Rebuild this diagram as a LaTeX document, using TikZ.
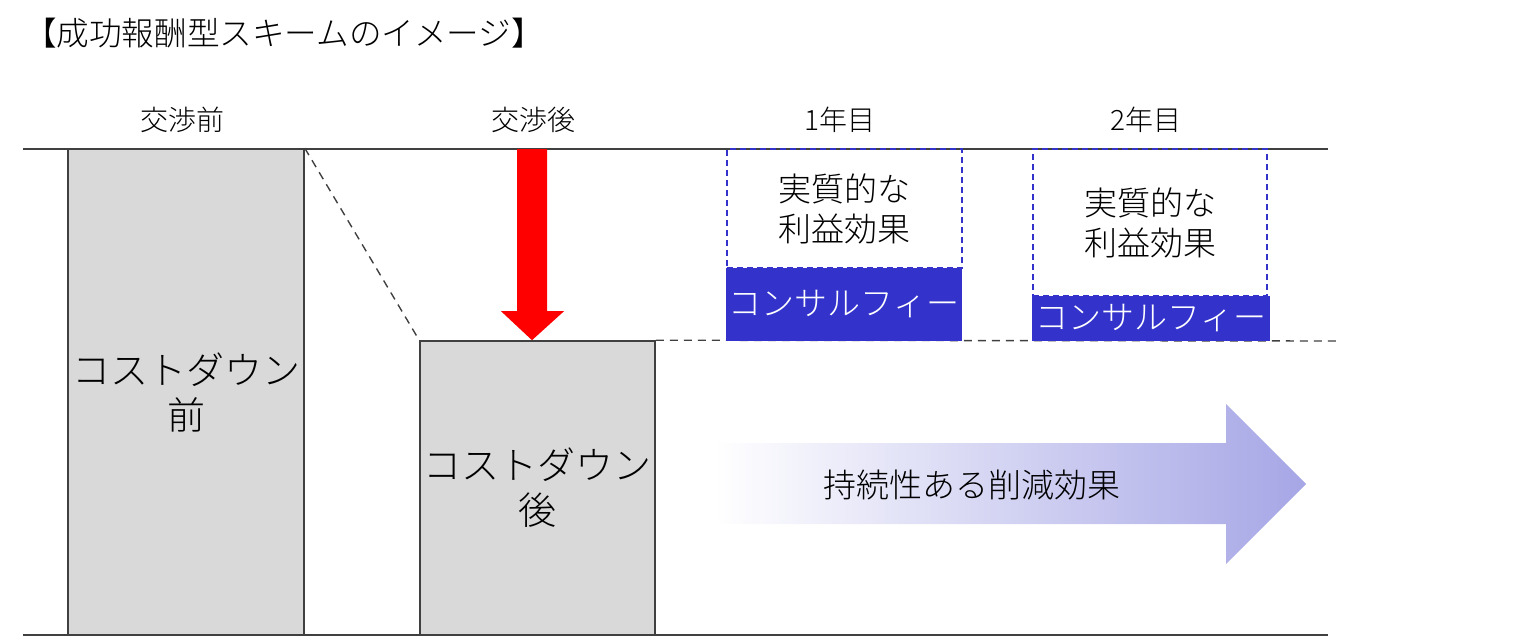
\documentclass[tikz,border=0pt]{standalone}
\usepackage{fontspec}
\setmainfont{Noto Sans CJK JP}[UprightFont=* Light]
\definecolor{boxgray}{HTML}{D9D9D9}
\definecolor{edgegray}{HTML}{404040}
\definecolor{feeblue}{HTML}{3333CC}
\definecolor{arrowblue}{HTML}{A6A6E6}
\begin{document}
\begin{tikzpicture}[x=0.5pt,y=-0.5pt,
  costbox/.style={draw=edgegray, line width=0.8pt, fill=boxgray, inner sep=0pt, align=center,
    font=\fontsize{19pt}{22.5pt}\selectfont},
  effbox/.style={draw=feeblue, dashed, dash pattern=on 3pt off 2pt, line width=0.75pt, inner sep=0pt,
    align=center, font=\fontsize{16.5pt}{20pt}\selectfont},
  feebox/.style={fill=feeblue, text=white, inner sep=0pt, align=center,
    font=\fontsize{16.5pt}{20pt}\selectfont},
  collabel/.style={font=\fontsize{14pt}{16pt}\selectfont, inner sep=0pt},
  axis/.style={draw=edgegray, line width=1pt},
  guide/.style={draw=edgegray, line width=0.7pt, dashed, dash pattern=on 4pt off 3pt}
]
\useasboundingbox (0,0) rectangle (1518,637);

% title
\node[font=\fontsize{16.3pt}{18pt}\selectfont, inner sep=0pt] (title) at (284,33) {【成功報酬型スキームのイメージ】};

% column labels
\node[collabel] (l0) at (182,120) {交渉前};
\node[collabel] (l1) at (533,120) {交渉後};
\node[collabel] (l2) at (840,120) {1年目};
\node[collabel] (l3) at (1146,120) {2年目};

% cost boxes
\node[costbox, minimum width=118pt, minimum height=243pt] (box0) at (186,392) {コストダウン\\前};
\node[costbox, minimum width=117.5pt, minimum height=147pt] (box1) at (537.5,488) {コストダウン\\後};

% axis lines
\coordinate (topL) at (23,149);
\coordinate (topR) at (1328,149);
\coordinate (botL) at (23,635);
\coordinate (botR) at (1328,635);
\draw[axis] (topL) -- (topR);
\draw[axis] (botL) -- (botR);

% dashed guides
\coordinate (guideR) at (1338,341);
\draw[guide] (box0.north east) -- (box1.north west);
\draw[guide] (box1.north east) -- (guideR);

% red arrow
\coordinate (redtop) at (532,149);
\coordinate (redtip) at (redtop |- box1.north);
\fill[red] ([xshift=-7.5pt]redtop) -- ([xshift=7.5pt]redtop) -- ([xshift=7.5pt,yshift=14.5pt]redtip)
  -- ([xshift=16pt,yshift=14.5pt]redtip) -- (redtip) -- ([xshift=-15.5pt,yshift=14.5pt]redtip)
  -- ([xshift=-7.5pt,yshift=14.5pt]redtip) -- cycle;

% year 1
\node[effbox, minimum width=117.5pt, minimum height=59.5pt] (eff1) at (844.5,208.5) {実質的な\\利益効果};
\node[feebox, minimum width=118pt, minimum height=36.5pt] (fee1) at (844,304.5) {コンサルフィー};
% year 2
\node[effbox, minimum width=117pt, minimum height=73.5pt] (eff2) at (1150,222.5) {実質的な\\利益効果};
\node[feebox, minimum width=119pt, minimum height=22.5pt] (fee2) at (1151,318.5) {コンサルフィー};

% gradient arrow
\shade[left color=white, right color=arrowblue]
  (715,443) -- (1226,443) -- (1226,404) -- (1306,484) -- (1226,564) -- (1226,524) -- (715,524) -- cycle;
\node[font=\fontsize{16.5pt}{20pt}\selectfont, inner sep=0pt] (effect) at (972,485) {持続性ある削減効果};
\end{tikzpicture}
\end{document}
